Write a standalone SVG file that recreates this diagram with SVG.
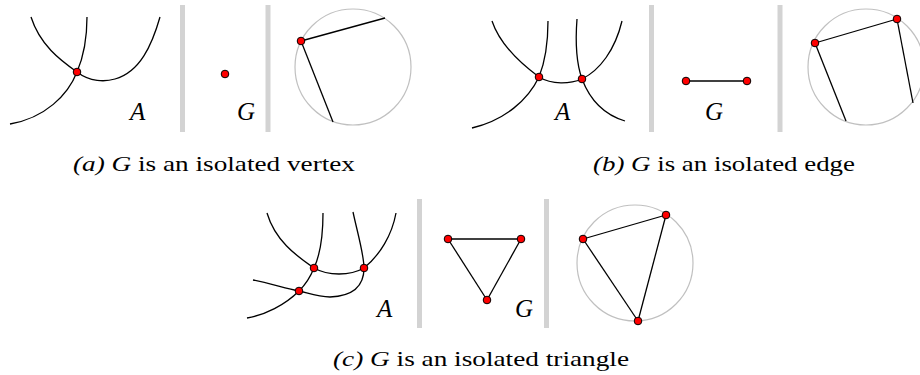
<svg xmlns="http://www.w3.org/2000/svg" width="920" height="375" viewBox="0 0 920 375">
<style>
.c{fill:none;stroke:#000;stroke-width:1.3}
.e{stroke:#000;stroke-width:1.3}
.bar{stroke:#d3d3d3;stroke-width:5}
.circ{fill:none;stroke:#c0c0c0;stroke-width:1.2}
.v{fill:#ff0000;stroke:#000;stroke-width:1}
.lab{font-family:"Liberation Serif","Times New Roman",serif;font-style:italic;font-size:25px}
.cap{font-family:"Liberation Serif","Times New Roman",serif;font-size:22px}
.it{font-style:italic}
</style>
<rect width="920" height="375" fill="#fff"/>
<g id="separators">
<line class="bar" x1="182.5" y1="5" x2="182.5" y2="132"/>
<line class="bar" x1="268" y1="5" x2="268" y2="132"/>
<line class="bar" x1="651.5" y1="5" x2="651.5" y2="132"/>
<line class="bar" x1="780" y1="5" x2="780" y2="132"/>
<line class="bar" x1="419.5" y1="199" x2="419.5" y2="328"/>
<line class="bar" x1="546.5" y1="199" x2="546.5" y2="328"/>
</g>
<g id="circles">
<circle class="circ" cx="353" cy="67" r="58"/>
<circle class="circ" cx="866" cy="67" r="58"/>
<circle class="circ" cx="635" cy="263" r="58"/>
</g>
<g id="connectors">
<path class="c" d="M31,17 C40,45 60,60 77,72 C90,82 105,82 115,79 C140,72 152,45 160,17"/>
<path class="c" d="M87,17 C87,40 83,58 77,72 C68,95 45,118 10,124"/>
<line class="e" x1="301" y1="41" x2="385" y2="18"/>
<line class="e" x1="301" y1="41" x2="333" y2="122"/>
<path class="c" d="M492,21 C500,45 520,63 539,77 C552,85 570,84 582,79 C600,70 615,50 622,21"/>
<path class="c" d="M548,21 C548,45 545,62 539,77 C528,100 505,120 472,128"/>
<path class="c" d="M577,19 C575,45 577,65 582,79 C590,100 605,115 625,121"/>
<line class="e" x1="686" y1="81" x2="747" y2="81"/>
<line class="e" x1="815" y1="43" x2="897" y2="19"/>
<line class="e" x1="815" y1="43" x2="846" y2="121"/>
<line class="e" x1="897" y1="19" x2="913" y2="103"/>
<path class="c" d="M267,213 C275,240 295,255 314,268 C328,276 350,276 364,268 C380,255 392,235 396,213"/>
<path class="c" d="M323,213 C323,235 320,255 314,268 C310,278 305,285 299,291 C285,305 265,315 247,318"/>
<path class="c" d="M353,212 C358,235 364,255 364,268 C364,285 355,296 330,297 C318,297 308,293 299,291 C285,288 268,283 253,280"/>
<line class="e" x1="448" y1="239" x2="521" y2="239"/>
<line class="e" x1="448" y1="239" x2="487" y2="300"/>
<line class="e" x1="521" y1="239" x2="487" y2="300"/>
<line class="e" x1="583" y1="239" x2="666" y2="215"/>
<line class="e" x1="583" y1="239" x2="638" y2="321"/>
<line class="e" x1="666" y1="215" x2="638" y2="321"/>
</g>
<g id="panel-a">
<circle class="v" cx="77" cy="72" r="3.8"/>
<text class="lab" x="130" y="120">A</text>
<circle class="v" cx="225" cy="74" r="3.8"/>
<text class="lab" x="237" y="120">G</text>
<circle class="v" cx="301" cy="41" r="3.8"/>
<text class="cap" x="73" y="171" textLength="282" lengthAdjust="spacingAndGlyphs"><tspan class="it">(a) G</tspan> is an isolated vertex</text>
</g>
<g id="panel-b">
<circle class="v" cx="539" cy="77" r="3.8"/>
<circle class="v" cx="582" cy="79" r="3.8"/>
<text class="lab" x="555" y="120">A</text>
<circle class="v" cx="686" cy="81" r="3.8"/>
<circle class="v" cx="747" cy="81" r="3.8"/>
<text class="lab" x="705" y="120">G</text>
<circle class="v" cx="815" cy="43" r="3.8"/>
<circle class="v" cx="897" cy="19" r="3.8"/>
<text class="cap" x="593" y="171" textLength="262" lengthAdjust="spacingAndGlyphs"><tspan class="it">(b) G</tspan> is an isolated edge</text>
</g>
<g id="panel-c">
<circle class="v" cx="314" cy="268" r="3.8"/>
<circle class="v" cx="364" cy="268" r="3.8"/>
<circle class="v" cx="299" cy="291" r="3.8"/>
<text class="lab" x="377" y="317">A</text>
<circle class="v" cx="448" cy="239" r="3.8"/>
<circle class="v" cx="521" cy="239" r="3.8"/>
<circle class="v" cx="487" cy="300" r="3.8"/>
<text class="lab" x="515" y="317">G</text>
<circle class="v" cx="583" cy="239" r="3.8"/>
<circle class="v" cx="666" cy="215" r="3.8"/>
<circle class="v" cx="638" cy="321" r="3.8"/>
<text class="cap" x="333" y="366" textLength="296" lengthAdjust="spacingAndGlyphs"><tspan class="it">(c) G</tspan> is an isolated triangle</text>
</g>
</svg>
